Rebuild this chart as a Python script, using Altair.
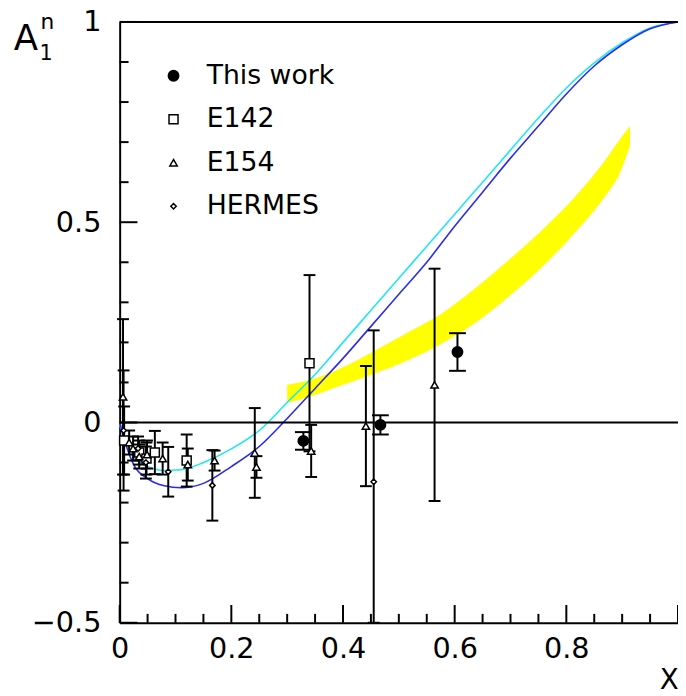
import altair as alt
import pandas as pd

# ---- model curves ----
curve_x = [0.0, 0.01, 0.025, 0.05, 0.08, 0.11, 0.15, 0.2, 0.25, 0.3, 0.35, 0.4, 0.45,
           0.5, 0.55, 0.6, 0.65, 0.7, 0.75, 0.8, 0.85, 0.9, 0.95, 1.0]
cyan_a = [-0.005, -0.045, -0.085, -0.11, -0.12, -0.118, -0.10, -0.066, -0.02, 0.05, 0.12,
          0.20, 0.28, 0.36, 0.44, 0.52, 0.60, 0.68, 0.76, 0.835, 0.898, 0.948, 0.985, 1.0]
blue_a = [0.0, -0.05, -0.105, -0.14, -0.158, -0.163, -0.152, -0.11, -0.06, 0.01, 0.085,
          0.16, 0.24, 0.32, 0.40, 0.49, 0.575, 0.66, 0.74, 0.82, 0.89, 0.943, 0.983, 1.0]

# ---- yellow band ----
band_x = [0.30, 0.34, 0.40, 0.458, 0.517, 0.577, 0.635, 0.694, 0.754, 0.812, 0.871, 0.895, 0.914]
band_lo = [0.049, 0.064, 0.094, 0.123, 0.156, 0.197, 0.247, 0.311, 0.385, 0.469, 0.568, 0.62, 0.69]
band_hi = [0.094, 0.106, 0.138, 0.18, 0.225, 0.272, 0.333, 0.402, 0.477, 0.558, 0.657, 0.705, 0.74]

# ---- data sets ----
this_x = [0.329, 0.467, 0.605]
this_a = [-0.046, -0.006, 0.176]
this_e = [0.022, 0.024, 0.047]

e142_x = [0.008, 0.035, 0.048, 0.063, 0.12, 0.34]
e142_a = [-0.045, -0.075, -0.09, -0.075, -0.095, 0.148]
e142_e = [0.085, 0.03, 0.04, 0.054, 0.065, 0.22]

e154_x = [0.006, 0.017, 0.024, 0.035, 0.049, 0.077, 0.122, 0.17, 0.242, 0.245, 0.343, 0.441, 0.564]
e154_a = [0.064, -0.05, -0.065, -0.085, -0.08, -0.09, -0.105, -0.095, -0.076, -0.111, -0.071, -0.009, 0.094]
e154_e = [0.194, 0.03, 0.03, 0.03, 0.035, 0.04, 0.04, 0.025, 0.112, 0.027, 0.065, 0.15, 0.29]

herm_x = [0.007, 0.033, 0.047, 0.087, 0.166, 0.455]
herm_a = [-0.02, -0.065, -0.1, -0.123, -0.157, -0.148]
herm_e = [0.15, 0.03, 0.04, 0.062, 0.088, 0.378]

set_names = ["This work", "E142", "E154", "HERMES"]

# axis ticks
x_major = [0, 0.2, 0.4, 0.6, 0.8, 1.0]
x_minor = [0.05, 0.1, 0.15, 0.25, 0.3, 0.35, 0.45, 0.5, 0.55, 0.65, 0.7, 0.75, 0.85, 0.9, 0.95]
y_major = [-0.5, 0, 0.5, 1.0]
y_minor = [-0.4, -0.3, -0.2, -0.1, 0.1, 0.2, 0.3, 0.4, 0.6, 0.7, 0.8, 0.9]
x_labels = [0, 0.2, 0.4, 0.6, 0.8]

# ---- tables ----
rows = []
for name, xs, as_, es in [("This work", this_x, this_a, this_e), ("E142", e142_x, e142_a, e142_e),
                          ("E154", e154_x, e154_a, e154_e), ("HERMES", herm_x, herm_a, herm_e)]:
    for x, a, e in zip(xs, as_, es):
        rows.append({"set": name, "x": x, "a": a, "lo": max(a - e, -0.5), "hi": a + e})
pts = pd.DataFrame(rows)
pts_this = pts[pts["set"] == "This work"]
pts_other = pts[pts["set"] != "This work"]

curves = pd.DataFrame({"x": curve_x * 2, "a": cyan_a + blue_a,
                       "model": ["cyan"] * len(curve_x) + ["blue"] * len(curve_x)})
band = pd.DataFrame({"x": band_x, "lo": band_lo, "hi": band_hi})

X = alt.Scale(domain=[0, 1], nice=False, zero=False)
Y = alt.Scale(domain=[-0.5, 1], nice=False, zero=False)

AX = dict(labelFont="DejaVu Sans", labelFontSize=29, labelColor="black", domainColor="black",
          domainWidth=2, grid=False, ticks=False, title=None, labelFlush=False, labelOverlap=False)
xaxis = alt.Axis(values=x_labels, labelExpr="datum.value == 0 ? '0' : format(datum.value, '.1f')",
                 labelPadding=12, **AX)
yaxis = alt.Axis(values=y_major,
                 labelExpr="datum.value == 0 ? '0' : datum.value == 1 ? '1' : replace(format(datum.value, '.1f'), '-', '\u2212')",
                 labelPadding=19, **AX)

band_layer = alt.Chart(band).mark_area(color="#ffff00", opacity=1, interpolate="monotone").encode(
    x=alt.X("x:Q", scale=X, axis=xaxis), y=alt.Y("lo:Q", scale=Y, axis=yaxis), y2="hi:Q")

curve_layer = alt.Chart(curves).mark_line(strokeWidth=1.6, interpolate="monotone").encode(
    x=alt.X("x:Q", scale=X), y=alt.Y("a:Q", scale=Y),
    color=alt.Color("model:N", scale=alt.Scale(domain=["cyan", "blue"], range=["#1ee6f5", "#2b2bea"]), legend=None))

zero_layer = alt.Chart(pd.DataFrame({"a": [0.0, 1.0]})).mark_rule(color="black", strokeWidth=2).encode(
    y=alt.Y("a:Q", scale=Y), x=alt.value(0), x2=alt.value(565))

ytick_layer = alt.Chart(pd.DataFrame({"v": y_minor})).mark_rule(color="black", strokeWidth=2).encode(
    y=alt.Y("v:Q", scale=Y), x=alt.value(0), x2=alt.value(9))
ytick_major_layer = alt.Chart(pd.DataFrame({"v": y_major})).mark_rule(color="black", strokeWidth=2).encode(
    y=alt.Y("v:Q", scale=Y), x=alt.value(0), x2=alt.value(18))
xtick_layer = alt.Chart(pd.DataFrame({"v": x_minor})).mark_rule(color="black", strokeWidth=2).encode(
    x=alt.X("v:Q", scale=X), y=alt.value(608), y2=alt.value(599))
xtick_major_layer = alt.Chart(pd.DataFrame({"v": x_major})).mark_rule(color="black", strokeWidth=2).encode(
    x=alt.X("v:Q", scale=X), y=alt.value(608), y2=alt.value(590))

bar_layer = alt.Chart(pts).mark_rule(color="black", strokeWidth=2).encode(
    x=alt.X("x:Q", scale=X), y=alt.Y("lo:Q", scale=Y), y2="hi:Q")
cap_lo_o = alt.Chart(pts_other).mark_rule(color="black", strokeWidth=2, xOffset=-6, x2Offset=6).encode(
    x=alt.X("x:Q", scale=X), x2="x:Q", y=alt.Y("lo:Q", scale=Y))
cap_hi_o = alt.Chart(pts_other).mark_rule(color="black", strokeWidth=2, xOffset=-6, x2Offset=6).encode(
    x=alt.X("x:Q", scale=X), x2="x:Q", y=alt.Y("hi:Q", scale=Y))
cap_lo_t = alt.Chart(pts_this).mark_rule(color="black", strokeWidth=2, xOffset=-8.5, x2Offset=8.5).encode(
    x=alt.X("x:Q", scale=X), x2="x:Q", y=alt.Y("lo:Q", scale=Y))
cap_hi_t = alt.Chart(pts_this).mark_rule(color="black", strokeWidth=2, xOffset=-8.5, x2Offset=8.5).encode(
    x=alt.X("x:Q", scale=X), x2="x:Q", y=alt.Y("hi:Q", scale=Y))

leg = alt.Legend(orient="none", legendX=41, legendY=41, title=None, labelFont="DejaVu Sans",
                 labelFontSize=27, labelColor="black", labelOffset=20, rowPadding=16, padding=0,
                 symbolStrokeWidth=1.5, symbolOpacity=1)
point_layer = alt.Chart(pts).mark_point(filled=True, strokeWidth=1.5, opacity=1).encode(
    x=alt.X("x:Q", scale=X), y=alt.Y("a:Q", scale=Y),
    shape=alt.Shape("set:N", scale=alt.Scale(domain=set_names, range=["circle", "square", "triangle-up", "diamond"]),
                    legend=leg, sort=set_names),
    fill=alt.Fill("set:N", scale=alt.Scale(domain=set_names, range=["black", "white", "white", "white"]),
                  legend=leg, sort=set_names),
    stroke=alt.Stroke("set:N", scale=alt.Scale(domain=set_names, range=["black", "black", "black", "black"]),
                      legend=leg, sort=set_names),
    size=alt.Size("set:N", scale=alt.Scale(domain=set_names, range=[110, 30, 45, 30]),
                  legend=leg, sort=set_names),
)

txt = pd.DataFrame({"t": ["A"]})
title_a = alt.Chart(txt).mark_text(text="A", font="DejaVu Sans", fontSize=36, align="center",
                                   baseline="alphabetic", color="black").encode(x=alt.value(-95), y=alt.value(28))
title_n = alt.Chart(txt).mark_text(text="n", font="DejaVu Sans", fontSize=22, align="left",
                                   baseline="alphabetic", color="black").encode(x=alt.value(-80), y=alt.value(7))
title_1 = alt.Chart(txt).mark_text(text="1", font="DejaVu Sans", fontSize=21, align="left",
                                   baseline="alphabetic", color="black").encode(x=alt.value(-81), y=alt.value(39))
title_x = alt.Chart(txt).mark_text(text="X", font="DejaVu Sans", fontSize=28, align="center",
                                   baseline="alphabetic", color="black").encode(x=alt.value(556), y=alt.value(675))

chart = alt.layer(
    band_layer, curve_layer, zero_layer, ytick_layer, ytick_major_layer, xtick_layer, xtick_major_layer,
    bar_layer, cap_lo_o, cap_hi_o, cap_lo_t, cap_hi_t, point_layer,
    title_a, title_n, title_1, title_x,
).resolve_scale(color="independent").properties(
    width=565, height=608, autosize=alt.AutoSizeParams(type="none"),
    padding={"left": 113, "top": 10, "right": 0, "bottom": 70},
    background="white",
).configure_view(strokeWidth=0)

chart.save("out.html", embed_options={"renderer": "svg", "actions": False})
